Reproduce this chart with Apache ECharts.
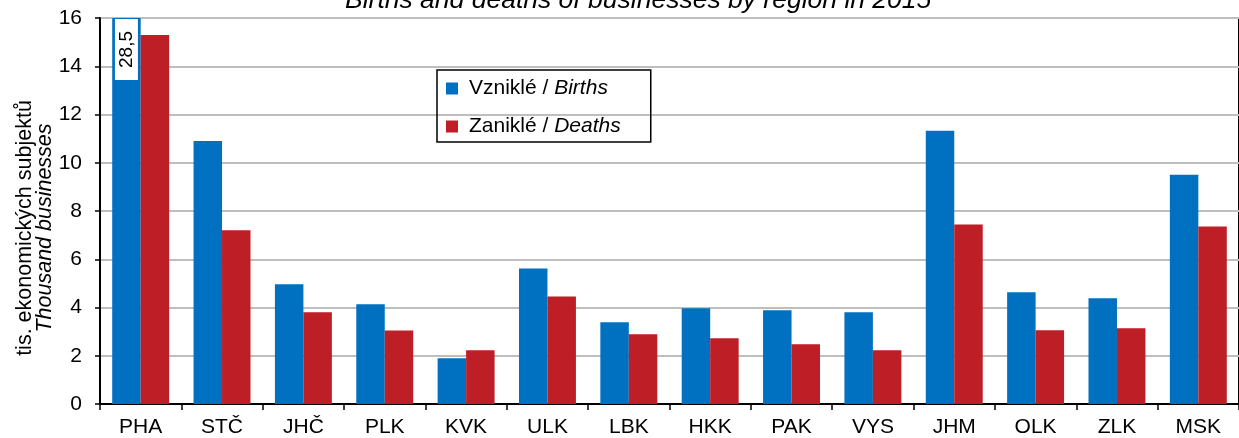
<!DOCTYPE html>
<html>
<head>
<meta charset="utf-8">
<script src="https://cdn.jsdelivr.net/npm/echarts@6/dist/echarts.min.js"></script>
<style>
  html, body { margin: 0; padding: 0; background: #fff; }
  #chart { width: 1239px; height: 438px; }
</style>
</head>
<body>
<div id="chart"></div>
<script>
const regions = ["PHA", "STČ", "JHČ", "PLK", "KVK", "ULK", "LBK", "HKK", "PAK", "VYS", "JHM", "OLK", "ZLK", "MSK"];
const births = [28.5, 10.9, 4.96, 4.13, 1.9, 5.62, 3.39, 3.97, 3.89, 3.8, 11.33, 4.63, 4.38, 9.5];
const deaths = [15.3, 7.2, 3.8, 3.05, 2.23, 4.46, 2.89, 2.73, 2.48, 2.23, 7.44, 3.06, 3.14, 7.36];
const yTicks = [0, 2, 4, 6, 8, 10, 12, 14, 16];

const chartDom = document.getElementById("chart");
const myChart = echarts.init(chartDom);

const font = "Liberation Sans, Arial, sans-serif";

// PHA births are off the scale, show the real value in a white box
const birthsData = births.map(function (v, i) {
  if (i !== 0) return v;
  return {
    value: v,
    label: {
      show: true,
      position: "insideTop",
      distance: 1,
      rotate: 90,
      align: "right",
      verticalAlign: "middle",
      formatter: function (p) {
        return String(p.value).replace(".", ",");
      },
      backgroundColor: "#fff",
      padding: [2, 12, 2, 12],
      color: "#000",
      fontSize: 19,
      fontFamily: font,
    },
  };
});

const option = {
  animation: false,
  title: {
    text: "Births and deaths of businesses by region in 2015",
    left: 340,
    top: -18,
    textStyle: {
      fontFamily: font,
      fontStyle: "italic",
      fontWeight: "normal",
      fontSize: 26.5,
      color: "#000",
    },
  },
  legend: {
    orient: "vertical",
    left: 437,
    top: 70,
    padding: [8, 30, 5, 9],
    itemGap: 17,
    itemWidth: 12,
    itemHeight: 12,
    borderColor: "#000",
    borderWidth: 1.5,
    icon: "rect",
    data: ["Vzniklé / Births", "Zaniklé / Deaths"],
    formatter: function (name) {
      const parts = name.split(" / ");
      return "{r|" + parts[0] + " / }{i|" + parts[1] + "}";
    },
    textStyle: {
      padding: [0, 0, 0, 6],
      rich: {
        r: { fontFamily: font, fontSize: 21, color: "#000" },
        i: { fontFamily: font, fontSize: 21, fontStyle: "italic", color: "#000" },
      },
    },
  },
  grid: {
    left: 100,
    right: -8,
    top: 18,
    bottom: 33,
    show: true,
    borderColor: "#000",
    borderWidth: 2,
    containLabel: false,
  },
  xAxis: {
    type: "category",
    data: regions,
    axisLine: { lineStyle: { color: "#000", width: 2 } },
    axisTick: { show: true, interval: 0, length: 6, lineStyle: { color: "#000", width: 1.5 } },
    axisLabel: {
      interval: 0,
      margin: 13,
      color: "#000",
      fontSize: 21,
      fontFamily: font,
    },
  },
  yAxis: {
    type: "value",
    min: yTicks[0],
    max: yTicks[yTicks.length - 1],
    interval: 2,
    name: "{a|tis. ekonomických subjektů}\n{b|Thousand businesses}",
    nameLocation: "middle",
    nameRotate: 90,
    nameGap: 45,
    nameMoveOverlap: false,
    nameTextStyle: {
      align: "center",
      padding: [0, 34, 0, 0],
      rich: {
        a: { fontFamily: font, fontSize: 21.5, color: "#000", lineHeight: 20 },
        b: { fontFamily: font, fontSize: 21.5, fontStyle: "italic", color: "#000", lineHeight: 20 },
      },
    },
    axisLine: { show: true, lineStyle: { color: "#000", width: 2 } },
    axisTick: { show: true, length: 5, lineStyle: { color: "#000", width: 1.5 } },
    axisLabel: {
      margin: 18,
      color: "#000",
      fontSize: 21,
      fontFamily: font,
    },
    splitLine: { show: true, lineStyle: { color: "#BEBEBE", width: 2 } },
  },
  series: [
    {
      name: "Vzniklé / Births",
      type: "bar",
      data: birthsData,
      barGap: "0%",
      barCategoryGap: "30%",
      itemStyle: { color: "#0070C0" },
    },
    {
      name: "Zaniklé / Deaths",
      type: "bar",
      data: deaths,
      itemStyle: { color: "#BE1E25" },
    },
  ],
};

myChart.setOption(option);

// Resize chart when window is resized
window.addEventListener("resize", function () {
  myChart.resize();
});
</script>
</body>
</html>
